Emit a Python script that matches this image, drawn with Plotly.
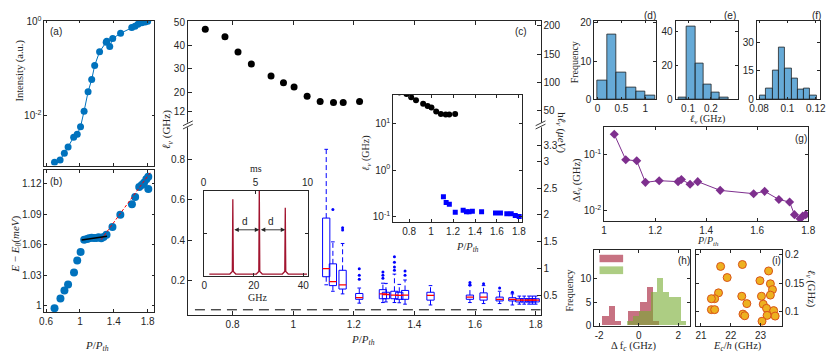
import plotly.graph_objects as go

W, H = 830, 362
INK = '#262626'
SANS = 'Liberation Sans, Arial, sans-serif'
SERIF = 'Liberation Serif, Times New Roman, serif'
BLUE = '#0072BD'
PURPLE = '#7E2F8E'

# ---------------- data ----------------
# (a) intensity vs pump
a_P = [0.70, 0.766, 0.816, 0.86, 0.926, 0.968, 1.007, 1.049, 1.096, 1.139, 1.174, 1.232,
       1.310, 1.317, 1.352, 1.387, 1.480, 1.612, 1.65, 1.685, 1.73, 1.77, 1.80]
a_I = [0.00105, 0.00117, 0.00162, 0.00219, 0.00355, 0.00407, 0.00589, 0.0126, 0.0324, 0.0589,
       0.117, 0.229, 0.363, 0.380, 0.295, 0.437, 0.562, 0.741, 0.794, 0.871, 0.933, 0.977, 1.01]
# (b) energy shift
b_P = [0.70, 0.77, 0.817, 0.86, 0.93, 0.968, 1.008, 1.05, 1.085, 1.108, 1.139, 1.166, 1.194,
       1.221, 1.252, 1.279, 1.314, 1.384, 1.477, 1.614, 1.652, 1.70, 1.73, 1.757, 1.784, 1.807, 1.807]
b_E = [0.9974, 1.007, 1.015, 1.021, 1.0327, 1.0445, 1.053, 1.065, 1.0657, 1.0664, 1.067, 1.0667,
       1.0667, 1.0673, 1.0664, 1.0676, 1.070, 1.0774, 1.0895, 1.100, 1.107, 1.117, 1.119, 1.1212,
       1.1245, 1.127, 1.115]
b_fit1_P = [1.02, 1.32]
b_fit1_E = [1.0648, 1.0683]
b_fit2_P = [1.25, 1.83]
b_fit2_E = [1.065, 1.131]

# (c) linewidth
c_P = [0.710, 0.775, 0.818, 0.862, 0.927, 0.968, 1.003, 1.046, 1.089, 1.133, 1.165, 1.219]
c_lv = [47.0, 43.8, 37.2, 32.1, 27.0, 24.1, 22.3, 18.3, 16.1, 15.7, 15.7, 16.1]
box_P = [1.109, 1.131, 1.163, 1.218, 1.296, 1.306, 1.334, 1.350, 1.369, 1.453, 1.583, 1.628,
         1.681, 1.723, 1.746, 1.762, 1.778, 1.789, 1.800]
box_q1 = [0.219, 0.175, 0.158, 0.107, 0.110, 0.110, 0.110, 0.107, 0.107, 0.103, 0.107, 0.103,
          0.099, 0.099, 0.094, 0.094, 0.094, 0.094, 0.094]
box_med = [0.259, 0.195, 0.179, 0.115, 0.134, 0.131, 0.128, 0.127, 0.128, 0.127, 0.118, 0.118,
           0.107, 0.107, 0.103, 0.103, 0.103, 0.103, 0.103]
box_q3 = [0.510, 0.283, 0.251, 0.136, 0.155, 0.142, 0.147, 0.142, 0.151, 0.142, 0.128, 0.139,
          0.118, 0.115, 0.110, 0.110, 0.110, 0.110, 0.110]
box_lo = [0.179, 0.147, 0.134, 0.088, 0.091, 0.094, 0.091, 0.090, 0.083, 0.079, 0.091, 0.086,
          0.086, 0.079, 0.083, 0.083, 0.083, 0.083, 0.083]
box_hi = [0.851, 0.392, 0.384, 0.163, 0.187, 0.186, 0.232, 0.181, 0.203, 0.175, 0.175, 0.175,
          0.147, 0.134, 0.123, 0.123, 0.123, 0.123, 0.123]
out_P = [1.131, 1.163, 1.163, 1.218, 1.218, 1.218, 1.296, 1.296, 1.296, 1.334, 1.334, 1.334,
         1.334, 1.369, 1.369, 1.583, 1.583, 1.628, 1.681, 1.723]
out_v = [0.552, 0.462, 0.451, 0.259, 0.227, 0.206, 0.243, 0.227, 0.211, 0.318, 0.291, 0.267,
         0.251, 0.248, 0.227, 0.190, 0.181, 0.184, 0.163, 0.142]
threshold = 0.055
HBAR_UEV_PER_GHZ = 4.1357  # h * 1 GHz in micro-eV

# inset: log linewidth
sq_P = [1.112, 1.137, 1.166, 1.22, 1.292, 1.322, 1.346, 1.376, 1.46, 1.587, 1.632, 1.69, 1.73, 1.767, 1.803]
sq_lv = [0.266, 0.200, 0.184, 0.124, 0.136, 0.127, 0.127, 0.130, 0.127, 0.119, 0.119, 0.114, 0.114, 0.105, 0.100]

# inset: spectrum
spec_f = [2.0, 10.3, 11.3, 11.5, 11.7, 12.7, 21.0, 22.0, 22.2, 22.4, 23.4, 31.5, 32.5, 32.7, 32.9, 33.9, 41.5]
spec_A = [0.02, 0.02, 0.05, 0.90, 0.05, 0.02, 0.02, 0.05, 1.05, 0.05, 0.02, 0.02, 0.05, 0.80, 0.05, 0.02, 0.02]
peak_f = [11.5, 22.2, 32.7]
d_arrow_A = 0.54

# (d),(e),(f) histograms of linewidth
d_edges = [0.0, 0.2, 0.4, 0.6, 0.8, 1.0, 1.2]
d_counts = [5, 17, 7, 3, 2, 1]
e_edges = [0.059, 0.095, 0.131, 0.167, 0.203, 0.239, 0.275]
e_counts = [1, 43, 21, 9, 4, 1]
f_edges = [0.0807, 0.0851, 0.0895, 0.0940, 0.0984, 0.1028, 0.1072, 0.1116, 0.1161, 0.1205]
f_counts = [2, 6, 15, 27, 16, 11, 5, 6, 2]

# (g) linewidth fluctuation
g_P = [1.040, 1.085, 1.128, 1.162, 1.216, 1.290, 1.303, 1.337, 1.367, 1.455, 1.586, 1.629,
       1.685, 1.727, 1.746, 1.768, 1.778, 1.790]
g_dl = [0.226, 0.0798, 0.0767, 0.0318, 0.034, 0.0327, 0.0358, 0.0294, 0.0327, 0.0229, 0.020,
        0.022, 0.0158, 0.0142, 0.0085, 0.0072, 0.0080, 0.0085]

# (h) detuning histograms
h_red_edges = [-1.83, -1.51, -1.19, -0.87, -0.55, -0.23, 0.09, 0.41, 0.73, 1.05]
h_red_counts = [2, 4, 1, 0, 3, 3, 5, 8, 1]
h_green_edges = [-0.58, -0.28, 0.02, 0.32, 0.62, 0.92, 1.22, 1.52, 1.82, 2.12, 2.42]
h_green_counts = [1, 2, 3, 3, 7, 10, 7, 6, 6, 1]

# (i) charging energy vs linewidth
i_Ec = [21.66, 22.39, 21.88, 23.27, 22.98, 23.33, 23.40, 21.59, 21.46, 21.35, 22.37, 22.54,
        23.03, 23.33, 23.09, 23.20, 21.35, 21.46, 23.44, 22.41, 22.47, 23.22, 23.49, 23.05]
i_lv = [0.1796, 0.183, 0.160, 0.1716, 0.1545, 0.149, 0.1387, 0.133, 0.1227, 0.1227, 0.127, 0.114,
        0.127, 0.129, 0.113, 0.1057, 0.1034, 0.1034, 0.1017, 0.0955, 0.0926, 0.0932, 0.092, 0.083]


# ---------------- helpers ----------------
def dx(l, r):
    return [l / W, r / W]


def dy(t, b):
    return [1 - b / H, 1 - t / H]


TICKF = dict(family=SANS, size=10, color=INK)


def ax(**kw):
    d = dict(showline=True, linecolor=INK, linewidth=0.8, ticks='inside', ticklen=3,
             tickcolor=INK, tickwidth=0.8, showgrid=False, zeroline=False, tickfont=TICKF,
             mirror='ticks', layer='above traces')
    d.update(kw)
    return d


def note(text, x, y, size=11, family=SERIF, angle=0, xanchor='center', yanchor='middle'):
    return dict(text=text, x=x / W, y=1 - y / H, xref='paper', yref='paper', showarrow=False,
                font=dict(family=family, size=size, color=INK), textangle=angle,
                xanchor=xanchor, yanchor=yanchor)


def centers(edges):
    return [(edges[i] + edges[i + 1]) / 2 for i in range(len(edges) - 1)]


def widths(edges):
    return [edges[i + 1] - edges[i] for i in range(len(edges) - 1)]


traces = []

# (a)
traces.append(go.Scatter(x=a_P, y=a_I, mode='lines+markers', line=dict(color=BLUE, width=1),
                         marker=dict(size=7, color=BLUE), xaxis='x', yaxis='y'))
# (b)
traces.append(go.Scatter(x=b_P, y=b_E, mode='markers', marker=dict(size=8, color=BLUE),
                         xaxis='x2', yaxis='y2'))
traces.append(go.Scatter(x=b_fit2_P, y=b_fit2_E, mode='lines', line=dict(color='#FF0000', width=1, dash='3px,2px'),
                         xaxis='x2', yaxis='y2'))
traces.append(go.Scatter(x=b_fit1_P, y=b_fit1_E, mode='lines', line=dict(color='black', width=1.5),
                         xaxis='x2', yaxis='y2'))

# (c) upper
traces.append(go.Scatter(x=c_P, y=c_lv, mode='markers', marker=dict(size=7, color='black'),
                         xaxis='x3', yaxis='y3'))
traces.append(go.Scatter(x=[None], y=[None], xaxis='x3', yaxis='y4'))

# (c) lower: boxes
BW = 0.024
rx, ry, mx, my, wx, wy, kx, ky = [], [], [], [], [], [], [], []
for p, q1, m, q3, lo, hi in zip(box_P, box_q1, box_med, box_q3, box_lo, box_hi):
    rx += [p - BW / 2, p + BW / 2, p + BW / 2, p - BW / 2, p - BW / 2, None]
    ry += [q1, q1, q3, q3, q1, None]
    mx += [p - BW / 2, p + BW / 2, None]
    my += [m, m, None]
    wx += [p, p, None, p, p, None]
    wy += [q3, hi, None, q1, lo, None]
    kx += [p - BW / 4, p + BW / 4, None, p - BW / 4, p + BW / 4, None]
    ky += [hi, hi, None, lo, lo, None]
traces.append(go.Scatter(x=wx, y=wy, mode='lines', line=dict(color='#0000FF', width=1, dash='5px,3px'),
                         xaxis='x4', yaxis='y5'))
traces.append(go.Scatter(x=kx, y=ky, mode='lines', line=dict(color='#0000FF', width=1),
                         xaxis='x4', yaxis='y5'))
traces.append(go.Scatter(x=rx, y=ry, mode='lines', line=dict(color='#0000FF', width=1),
                         xaxis='x4', yaxis='y5'))
traces.append(go.Scatter(x=mx, y=my, mode='lines', line=dict(color='#FF0000', width=1.3),
                         xaxis='x4', yaxis='y5'))
traces.append(go.Scatter(x=out_P, y=out_v, mode='markers', marker=dict(size=3, color='#0000FF'),
                         xaxis='x4', yaxis='y5'))
traces.append(go.Scatter(x=[None], y=[None], xaxis='x4', yaxis='y6'))

# spectrum inset
traces.append(go.Scatter(x=spec_f, y=spec_A, mode='lines', line=dict(color='#A2142F', width=1.3),
                         xaxis='x5', yaxis='y7'))
traces.append(go.Scatter(x=[None], y=[None], xaxis='x6', yaxis='y7'))

# log inset
traces.append(go.Scatter(x=c_P, y=c_lv, mode='markers', marker=dict(size=6, color='black'),
                         xaxis='x7', yaxis='y8'))
traces.append(go.Scatter(x=sq_P, y=sq_lv, mode='markers', marker=dict(size=5, color='#0000FF', symbol='square'),
                         xaxis='x7', yaxis='y8'))

# histograms d, e, f
HFILL = 'rgba(0,114,189,0.6)'
for edges, counts, xa, ya in [(d_edges, d_counts, 'x8', 'y9'), (e_edges, e_counts, 'x9', 'y10'),
                              (f_edges, f_counts, 'x10', 'y11')]:
    traces.append(go.Bar(x=centers(edges), y=counts, width=widths(edges), marker=dict(color=HFILL,
                         line=dict(color=INK, width=0.8)), xaxis=xa, yaxis=ya))

# (g)
traces.append(go.Scatter(x=g_P, y=g_dl, mode='lines+markers', line=dict(color=PURPLE, width=1),
                         marker=dict(size=7, color=PURPLE, symbol='diamond'), xaxis='x11', yaxis='y12'))

# (h)
traces.append(go.Bar(x=centers(h_red_edges), y=h_red_counts, width=widths(h_red_edges),
                     marker=dict(color='rgba(162,20,47,0.6)', line=dict(width=0)), xaxis='x12', yaxis='y13'))
traces.append(go.Bar(x=centers(h_green_edges), y=h_green_counts, width=widths(h_green_edges),
                     marker=dict(color='rgba(119,172,48,0.6)', line=dict(width=0)), xaxis='x12', yaxis='y13'))

# (i)
traces.append(go.Scatter(x=i_Ec, y=i_lv, mode='markers',
                         marker=dict(size=8, color='#EDB120', line=dict(color='#D95319', width=1)),
                         xaxis='x13', yaxis='y14'))

fig = go.Figure(data=traces)

# ---------------- axes ----------------
PX_RANGE = [0.58, 1.88]
C_RANGE = [0.6527, 1.816]
up_range = [6.07, 50.41]
lo_range = [0.0273, 0.972]
PQ = [0.6, 1.0, 1.4, 1.8]
CQ = [0.8, 1.0, 1.2, 1.4, 1.6, 1.8]

lay = dict(
    width=W, height=H, margin=dict(l=0, r=0, t=0, b=0), paper_bgcolor='white', plot_bgcolor='rgba(0,0,0,0)',
    showlegend=False, barmode='overlay', bargap=0,
    # (a)
    xaxis=ax(domain=dx(38, 150), anchor='y', range=PX_RANGE, tickvals=PQ, showticklabels=False),
    yaxis=ax(domain=dy(15, 165), anchor='x', type='log', range=[-3.05, 0.02], tickvals=[0.01, 1],
             ticktext=['10<sup>-2</sup>', '10<sup>0</sup>']),
    # (b)
    xaxis2=ax(domain=dx(38, 150), anchor='y2', range=PX_RANGE, tickvals=PQ),
    yaxis2=ax(domain=dy(170, 316.7), anchor='x2', range=[0.9936, 1.1333],
              tickvals=[1, 1.03, 1.06, 1.09, 1.12]),
    # (c) upper
    xaxis3=ax(domain=dx(184, 542.7), anchor='y3', side='top', range=C_RANGE, tickvals=CQ,
              showticklabels=False, mirror=False, ticklen=4),
    yaxis3=ax(domain=dy(15.7, 123), anchor='x3', range=up_range, tickvals=[12, 20, 30, 40, 50],
              mirror=False, ticklen=4),
    yaxis4=ax(overlaying='y3', anchor='x3', side='right', range=[v * HBAR_UEV_PER_GHZ for v in up_range],
              tickvals=[50, 100, 150, 200], mirror=False, ticklen=4),
    # (c) lower
    xaxis4=ax(domain=dx(184, 542.7), anchor='y5', range=C_RANGE, tickvals=CQ, mirror=False, ticklen=4),
    yaxis5=ax(domain=dy(123, 320), anchor='x4', range=lo_range, tickvals=[0.2, 0.4, 0.6, 0.8],
              mirror=False, ticklen=4),
    yaxis6=ax(overlaying='y5', anchor='x4', side='right', range=[0.126, 3.68],
              tickvals=[0.5, 1, 1.5, 2, 2.5, 3, 3.3], mirror=False, ticklen=4),
    # spectrum inset
    xaxis5=ax(domain=dx(200, 305.7), anchor='y7', range=[-0.3, 41.7], tickvals=[0, 20, 40], mirror=True),
    xaxis6=ax(overlaying='x5', anchor='y7', side='top', range=[0, 10], tickvals=[0, 5, 10], mirror=False),
    yaxis7=ax(domain=dy(191, 279), anchor='x5', range=[0, 1], tickvals=[0.5], showticklabels=False),
    # log inset
    xaxis7=ax(domain=dx(392.7, 524), anchor='y8', range=[0.653, 1.83], tickvals=CQ),
    yaxis8=ax(domain=dy(91.7, 223.3), anchor='x7', type='log', range=[-1.117, 1.625],
              tickvals=[0.1, 1, 10], ticktext=['10<sup>-1</sup>', '10<sup>0</sup>', '10<sup>1</sup>']),
    # (d)
    xaxis8=ax(domain=dx(597.3, 660), anchor='y9', range=[-0.07, 1.22], tickvals=[0, 0.5, 1]),
    yaxis9=ax(domain=dy(15, 96.7), anchor='x8', range=[0, 20.6], tickvals=[0, 10, 20]),
    # (e)
    xaxis9=ax(domain=dx(680, 743.3), anchor='y10', range=[0.0455, 0.317], tickvals=[0.1, 0.2]),
    yaxis10=ax(domain=dy(15, 96.7), anchor='x9', range=[0, 46.6], tickvals=[0, 20, 40]),
    # (f)
    xaxis10=ax(domain=dx(762.7, 826.7), anchor='y11', range=[0.0784, 0.1228], tickvals=[0.08, 0.1, 0.12]),
    yaxis11=ax(domain=dy(15, 96.7), anchor='x10', range=[0, 41.4], tickvals=[0, 15, 30]),
    # (g)
    xaxis11=ax(domain=dx(607.3, 815), anchor='y12', range=[1, 1.8], tickvals=[1, 1.2, 1.4, 1.6, 1.8]),
    yaxis12=ax(domain=dy(125, 222.7), anchor='x11', type='log', range=[-2.189, -0.514],
               tickvals=[0.01, 0.1], ticktext=['10<sup>-2</sup>', '10<sup>-1</sup>']),
    # (h)
    xaxis12=ax(domain=dx(597.3, 695), anchor='y13', range=[-2.25, 2.6], tickvals=[-2, 0, 2],
               ticktext=['-2', '0', '2']),
    yaxis13=ax(domain=dy(252.7, 330.7), anchor='x12', range=[0, 15.9], tickvals=[0, 5, 10]),
    # (i)
    xaxis13=ax(domain=dx(700.7, 788.3), anchor='y14', range=[20.83, 23.72], tickvals=[21, 22, 23]),
    yaxis14=ax(domain=dy(252.7, 330.7), anchor='x13', side='right', range=[0.075, 0.208],
               tickvals=[0.1, 0.15, 0.2]),
)
fig.update_layout(**lay)

PPTH = '<i>P</i>/<i>P</i><sub><i>th</i></sub>'
LV = '<i>ℓ</i><sub><i>v</i></sub> (GHz)'
ann = [
    note('Intensity (a.u.)', 13, 67, size=10.5, angle=-90),
    note('<i>E</i> − <i>E</i><sub>0</sub>(<i>meV</i>)', 9, 246, size=11, angle=-90),
    note(PPTH, 92, 352, size=11),
    note(LV, 163, 128, size=11, angle=-90),
    note('h<i>ℓ</i><sub><i>v</i></sub> (<i>μeV</i>)', 564, 131, size=11, angle=90),
    note(PPTH, 362, 345, size=11),
    note('ms', 253, 168, size=10),
    note('GHz', 255, 301, size=10),
    note('d', 242.3, 222.7, size=10, family=SANS),
    note('d', 268.7, 222.7, size=10, family=SANS),
    note(LV, 366, 152, size=10, angle=-90),
    note(PPTH, 468, 250, size=10.5),
    note('Frequency', 577, 58, size=10, angle=-90),
    note(LV, 713, 117, size=10),
    note('Δ<i>ℓ</i><sub><i>v</i></sub> (GHz)', 580, 180, size=10.5, angle=-90),
    note(PPTH, 713, 244, size=10),
    note('Frequency', 572, 294, size=10, angle=-90),
    note('Δ f<sub><i>c</i></sub> (GHz)', 638, 351.7, size=10.5),
    note('<i>E</i><sub><i>c</i></sub>/<i>h</i> (GHz)', 743, 351.7, size=10.5),
    note(LV, 818, 293, size=10.5, angle=90),
]
for lab, x, y in [('(a)', 50, 26), ('(b)', 50, 181), ('(c)', 523, 26), ('(d)', 654, 10), ('(e)', 735, 10),
                  ('(f)', 823, 10), ('(g)', 808, 137), ('(h)', 688.5, 263), ('(i)', 782.5, 263)]:
    ann.append(note(lab, x, y, size=10, family=SANS))

# double arrows in spectrum inset
for f0, f1 in [(peak_f[0], peak_f[1]), (peak_f[1], peak_f[2])]:
    ann.append(dict(x=f1, y=d_arrow_A, ax=f0, ay=d_arrow_A, xref='x5', yref='y7', axref='x5', ayref='y7',
                    text='', showarrow=True, arrowhead=2, arrowside='end+start', arrowsize=1,
                    arrowwidth=0.9, arrowcolor=INK, standoff=0, startstandoff=0))
fig.update_layout(annotations=ann)

shapes = []
# threshold dashed line
shapes.append(dict(type='line', xref='x4 domain', yref='y5', x0=0.02, x1=1, y0=threshold, y1=threshold,
                   line=dict(color='black', width=1, dash='10px,6px')))
# broken axis marks
for xp in [184, 542.7]:
    shapes.append(dict(type='rect', xref='paper', yref='paper', x0=(xp - 3) / W, x1=(xp + 3) / W,
                       y0=1 - 125.5 / H, y1=1 - 120.5 / H, fillcolor='white', line=dict(width=0), layer='above'))
    for yp in [121.3, 124.7]:
        shapes.append(dict(type='line', xref='paper', yref='paper', x0=(xp - 5) / W, x1=(xp + 5) / W,
                           y0=1 - (yp + 2.5) / H, y1=1 - (yp - 2.5) / H, line=dict(color=INK, width=0.9),
                           layer='above'))
# legend patches in (h)
for (t, b), col in [((257.3, 265), 'rgba(162,20,47,0.6)'), ((269.3, 277.3), 'rgba(119,172,48,0.6)')]:
    shapes.append(dict(type='rect', xref='paper', yref='paper', x0=602.7 / W, x1=626.7 / W,
                       y0=1 - b / H, y1=1 - t / H, fillcolor=col, line=dict(width=0)))
fig.update_layout(shapes=shapes)

fig.write_html("out.html", config={'displayModeBar': False},
               post_script="document.body.style.margin='0';document.body.style.padding='0';")
